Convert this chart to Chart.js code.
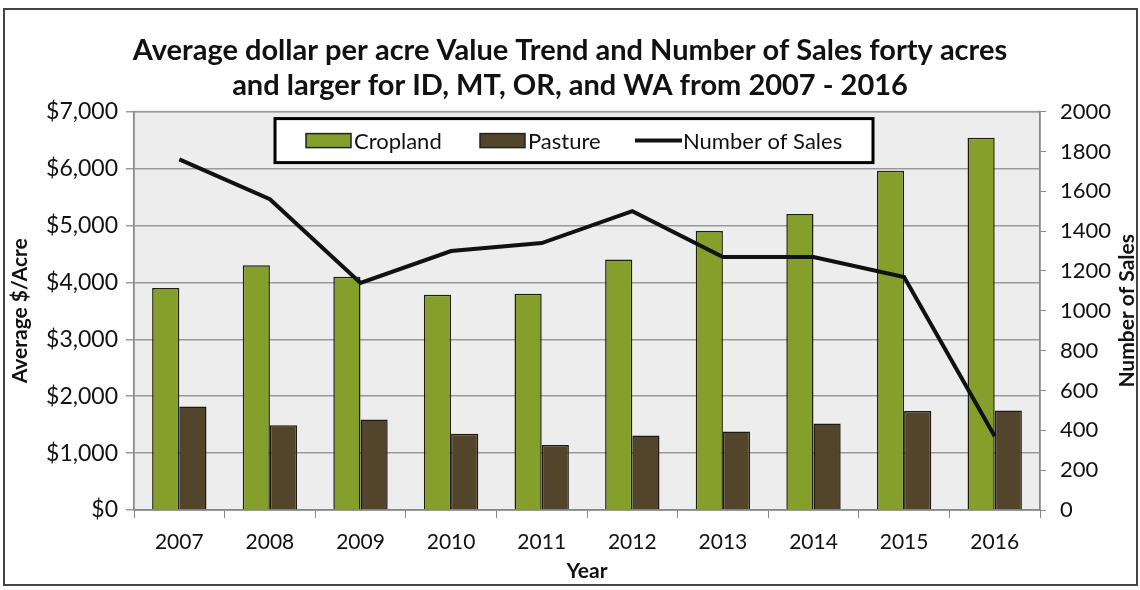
<!DOCTYPE html>
<html>
<head>
<meta charset="utf-8">
<script src="https://cdn.jsdelivr.net/npm/chart.js@4.4.1/dist/chart.umd.min.js"></script>
<style>
  html, body { margin: 0; padding: 0; background: #ffffff; }
  #wrap { position: relative; width: 1140px; height: 590px; }
</style>
</head>
<body>
<div id="wrap"><canvas id="c" width="1140" height="590"></canvas></div>
<script>
const years = ['2007', '2008', '2009', '2010', '2011', '2012', '2013', '2014', '2015', '2016'];
const cropland = [3900, 4300, 4100, 3780, 3800, 4400, 4900, 5200, 5960, 6540];
const pasture = [1820, 1490, 1590, 1340, 1140, 1310, 1380, 1520, 1740, 1750];
const sales = [1760, 1560, 1140, 1300, 1340, 1500, 1270, 1270, 1170, 370];
const titleLines = ['Average dollar per acre Value Trend and Number of Sales forty acres',
                    'and larger for ID, MT, OR, and WA from 2007 - 2016'];
const leftTitle = 'Average $/Acre';
const rightTitle = 'Number of Sales';
const xTitle = 'Year';

const FONT = 'Lato, "Open Sans", "DejaVu Sans", sans-serif';
const TXT = '#111111';

const frame = {
  id: 'frame',
  beforeDraw(chart) {
    const ctx = chart.ctx;
    const a = chart.chartArea;
    ctx.save();
    ctx.fillStyle = '#ffffff';
    ctx.fillRect(0, 0, chart.width, chart.height);
    ctx.strokeStyle = '#444';
    ctx.lineWidth = 2;
    ctx.strokeRect(4, 9, 1133, 576);
    ctx.fillStyle = '#ededed';
    ctx.fillRect(a.left, a.top, a.right - a.left, a.bottom - a.top);
    ctx.strokeStyle = '#a8a8a8';
    ctx.lineWidth = 1.5;
    ctx.strokeRect(a.left, a.top, a.right - a.left, a.bottom - a.top);
    ctx.restore();
  },
  afterDraw(chart) {
    const ctx = chart.ctx;
    const a = chart.chartArea;
    ctx.save();
    ctx.translate(1127, (a.top + a.bottom) / 2);
    ctx.rotate(-Math.PI / 2);
    ctx.font = 'bold 21px ' + FONT;
    ctx.fillStyle = TXT;
    ctx.textAlign = 'center';
    ctx.textBaseline = 'middle';
    ctx.fillText(rightTitle, 0, 0);
    ctx.restore();
  }
};

const boxLegend = {
  id: 'boxLegend',
  afterDatasetsDraw(chart) {
    const ctx = chart.ctx;
    const a = chart.chartArea;
    const x0 = a.left + 141, y0 = a.top + 7, w = 598, h = 44;
    ctx.save();
    ctx.fillStyle = '#ffffff';
    ctx.fillRect(x0, y0, w, h);
    ctx.strokeStyle = '#000';
    ctx.lineWidth = 3;
    ctx.strokeRect(x0, y0, w, h);
    const cy = y0 + h / 2;
    ctx.font = '22px ' + FONT;
    ctx.textBaseline = 'middle';
    ctx.textAlign = 'left';
    const ds = chart.data.datasets;
    const byLabel = l => ds.find(d => d.label === l);
    const items = [
      { ds: byLabel('Cropland'), sx: x0 + 31, tx: x0 + 79 },
      { ds: byLabel('Pasture'), sx: x0 + 205, tx: x0 + 253 },
      { ds: byLabel('Number of Sales'), sx: x0 + 360, tx: x0 + 408 }
    ];
    items.forEach(it => {
      if (it.ds.type === 'line') {
        ctx.strokeStyle = it.ds.borderColor;
        ctx.lineWidth = 4;
        ctx.beginPath();
        ctx.moveTo(it.sx, cy);
        ctx.lineTo(it.sx + 47, cy);
        ctx.stroke();
      } else {
        ctx.fillStyle = it.ds.backgroundColor;
        ctx.fillRect(it.sx, cy - 7, 45, 14);
        ctx.strokeStyle = '#222';
        ctx.lineWidth = 1.5;
        ctx.strokeRect(it.sx, cy - 7, 45, 14);
      }
      ctx.fillStyle = TXT;
      ctx.fillText(it.ds.label, it.tx, cy + 1);
    });
    ctx.restore();
  }
};

new Chart(document.getElementById('c'), {
  data: {
    labels: years,
    datasets: [
      { type: 'line', label: 'Number of Sales', data: sales, yAxisID: 'y1',
        borderColor: '#111111', borderWidth: 4, pointRadius: 0, tension: 0, order: 0 },
      { type: 'bar', label: 'Cropland', data: cropland, yAxisID: 'y',
        backgroundColor: '#84a02a', borderColor: '#1e1e10', borderWidth: 1.5,
        categoryPercentage: 0.6, barPercentage: 1.0, order: 1 },
      { type: 'bar', label: 'Pasture', data: pasture, yAxisID: 'y',
        backgroundColor: '#52452b', borderColor: '#1e1a10', borderWidth: 1.5,
        categoryPercentage: 0.6, barPercentage: 1.0, order: 1 }
    ]
  },
  options: {
    responsive: false,
    animation: false,
    layout: { padding: { left: 8, right: 8, top: 0, bottom: 6 } },
    plugins: {
      legend: { display: false },
      tooltip: { enabled: false },
      title: {
        display: true,
        text: titleLines,
        color: TXT,
        font: { family: FONT, size: 29, weight: 'bold', lineHeight: 1.2 },
        padding: { top: 33, bottom: 9 }
      }
    },
    scales: {
      x: {
        offset: true,
        grid: { display: true, drawOnChartArea: false, offset: true, color: '#888', tickLength: 8 },
        border: { display: true, color: '#888', width: 1.5 },
        ticks: { color: TXT, font: { family: FONT, size: 21 }, padding: 12, maxRotation: 0 },
        title: { display: true, text: xTitle, color: TXT, font: { family: FONT, size: 21, weight: 'bold' }, padding: { top: 0, bottom: 0 } },
        afterFit(s) { s.height = 74; }
      },
      y: {
        position: 'left',
        min: 0, max: 7000,
        ticks: { stepSize: 1000, color: TXT, font: { family: FONT, size: 23 }, padding: 8,
                 callback: v => '$' + v.toLocaleString('en-US') },
        grid: { color: '#9a9a9a', lineWidth: 1.5, tickLength: 8 },
        border: { display: true, color: '#888', width: 1.5 },
        title: { display: true, text: leftTitle, color: TXT, font: { family: FONT, size: 21, weight: 'bold' }, padding: 0 },
        afterFit(s) { s.width = 126; }
      },
      y1: {
        position: 'right',
        min: 0, max: 2000,
        ticks: { stepSize: 200, color: TXT, font: { family: FONT, size: 22 }, padding: 14,
                 callback: v => String(v) },
        grid: { drawOnChartArea: false, color: '#888', tickLength: 6 },
        border: { display: true, color: '#888', width: 1.5 },
        title: { display: false },
        afterFit(s) { s.width = 92; }
      }
    }
  },
  plugins: [frame, boxLegend]
});
</script>
</body>
</html>
